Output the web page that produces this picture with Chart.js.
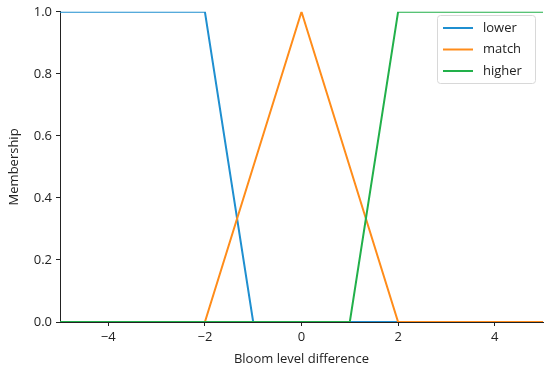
<!DOCTYPE html>
<html>
<head>
<meta charset="utf-8">
<script src="https://cdn.jsdelivr.net/npm/chart.js@4"></script>
<style>
  html, body { margin: 0; padding: 0; background: #fff; }
  #wrap { position: relative; width: 550px; height: 369px; }
</style>
</head>
<body>
<div id="wrap"><canvas id="chart" width="550" height="369"></canvas></div>
<script>
// Membership functions (breakpoints)
const lowerX  = [-5, -2, -1, 5];
const lowerY  = [1, 1, 0, 0];
const matchX  = [-5, -2, 0, 2, 5];
const matchY  = [0, 0, 1, 0, 0];
const higherX = [-5, 1, 2, 5];
const higherY = [0, 0, 1, 1];

const seriesNames = ["lower", "match", "higher"];
const xTicks = [-4, -2, 0, 2, 4];
const yTicks = [0, 0.2, 0.4, 0.6, 0.8, 1.0];

const colors = ["#1f8fd0", "#ff8c1a", "#22b04a"];
const FONT = "'Open Sans', 'DejaVu Sans', sans-serif";

function pts(xs, ys) {
  return xs.map((x, i) => ({ x: x, y: ys[i] }));
}

// ---------------------------------------------------------
// Legend drawn inside the plot, top right (matplotlib style)
// ---------------------------------------------------------
const boxLegend = {
  id: "boxLegend",
  afterDraw(chart) {
    const ctx = chart.ctx;
    const x0 = 437.5, y0 = 15.5, w = 98, h = 68;
    ctx.save();
    ctx.fillStyle = "rgba(255,255,255,0.85)";
    ctx.strokeStyle = "#d8d8d8";
    ctx.lineWidth = 1;
    ctx.beginPath();
    ctx.roundRect(x0, y0, w, h, 3);
    ctx.fill();
    ctx.stroke();

    ctx.font = "13px " + FONT;
    ctx.textBaseline = "middle";
    seriesNames.forEach((name, i) => {
      const y = 28 + i * 21.5;
      ctx.strokeStyle = colors[i];
      ctx.lineWidth = 2;
      ctx.beginPath();
      ctx.moveTo(443, y);
      ctx.lineTo(473, y);
      ctx.stroke();
      ctx.fillStyle = "#222";
      ctx.fillText(name, 483, y);
    });
    ctx.restore();
  }
};

const datasets = [
  pts(lowerX, lowerY),
  pts(matchX, matchY),
  pts(higherX, higherY)
].map((data, i) => ({
  label: seriesNames[i],
  data: data,
  borderColor: colors[i],
  backgroundColor: colors[i],
  borderWidth: 2,
  pointRadius: 0,
  tension: 0,
  fill: false,
  order: 2 - i // later series drawn on top, like matplotlib
}));

new Chart(document.getElementById("chart"), {
  type: "line",
  data: { datasets },
  options: {
    responsive: false,
    animation: false,
    devicePixelRatio: 1,
    layout: { padding: { top: 11, right: 7, left: 0, bottom: 0 } },
    plugins: {
      legend: { display: false },
      tooltip: { enabled: false }
    },
    scales: {
      x: {
        type: "linear",
        min: -5,
        max: 5,
        afterBuildTicks: axis => { axis.ticks = xTicks.map(v => ({ value: v })); },
        afterFit: axis => { axis.height = 47; },
        ticks: {
          color: "#222",
          font: { family: FONT, size: 13 },
          padding: 3,
          maxRotation: 0,
          autoSkip: false,
          callback: v => String(v).replace("-", "\u2212")
        },
        grid: { drawOnChartArea: false, drawTicks: true, tickLength: 4, color: "#222" },
        border: { display: true, color: "#222", width: 1 },
        title: {
          display: true,
          text: "Bloom level difference",
          color: "#222",
          font: { family: FONT, size: 13 },
          padding: { top: 0, bottom: 2 }
        }
      },
      y: {
        min: 0,
        max: 1,
        afterBuildTicks: axis => { axis.ticks = yTicks.map(v => ({ value: v })); },
        afterFit: axis => { axis.width = 60; },
        ticks: {
          color: "#222",
          font: { family: FONT, size: 13 },
          padding: 4,
          autoSkip: false,
          callback: v => v.toFixed(1)
        },
        grid: { drawOnChartArea: false, drawTicks: true, tickLength: 4, color: "#222" },
        border: { display: true, color: "#222", width: 1 },
        title: {
          display: true,
          text: "Membership",
          color: "#222",
          font: { family: FONT, size: 13 },
          padding: { top: 6, bottom: 0 }
        }
      }
    }
  },
  plugins: [boxLegend]
});
</script>
</body>
</html>
